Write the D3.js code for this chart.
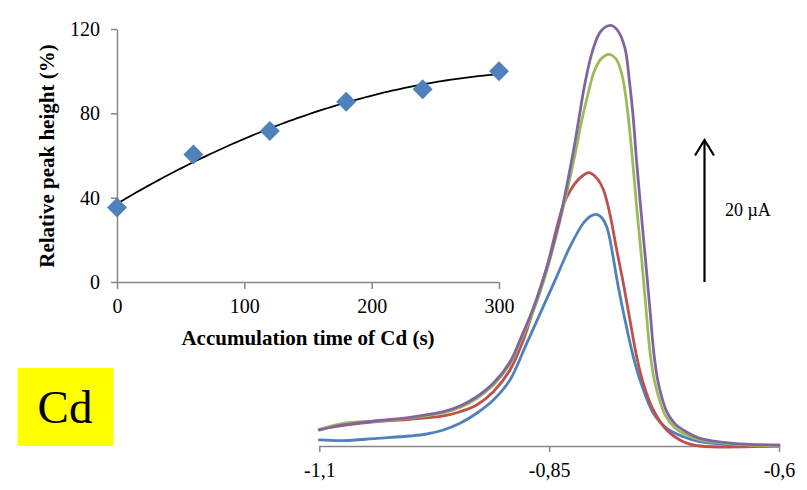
<!DOCTYPE html>
<html><head><meta charset="utf-8">
<script src="https://cdn.jsdelivr.net/npm/d3@7/dist/d3.min.js"></script>
<style>
body{margin:0;background:#fff}
svg{display:block}
text{font-family:"Liberation Serif","Times New Roman",serif;fill:#000}
</style>
</head><body>
<svg id="c" width="807" height="490"></svg>
<script>
// ---------- Inset data ----------
const insetTime = [0, 60, 120, 180, 240, 300];
const insetHeight = [35.3, 60.5, 71.6, 85.5, 91.4, 100.0];
const insetXTicks = [0, 100, 200, 300];
const insetYTicks = [0, 40, 80, 120];
const insetXTitle = "Accumulation time of Cd (s)";
const insetYTitle = "Relative peak height (%)";

// ---------- Voltammogram data: [potential (V), current (µA)] ----------
const curveBlue = [
  [-1.1000,0.85],[-1.0739,0.75],[-1.0376,1.08],[-1.0013,1.41],[-0.9832,1.69],[-0.9651,2.25],
  [-0.9470,3.20],[-0.9288,4.61],[-0.9107,6.48],[-0.8926,9.30],[-0.8744,14.46],[-0.8564,19.62],
  [-0.8418,23.85],[-0.8273,28.07],[-0.8129,31.37],[-0.8056,32.32],[-0.7983,32.63],[-0.7925,32.11],
  [-0.7874,30.89],[-0.7838,29.01],[-0.7748,22.44],[-0.7675,17.75],[-0.7585,12.58],[-0.7512,9.30],
  [-0.7367,4.61],[-0.7221,2.49],[-0.7041,1.31],[-0.6859,0.61],[-0.6500,0.14],[-0.6000,0.0]
];
const curveRed = [
  [-1.1000,2.35],[-1.0739,2.89],[-1.0376,3.42],[-1.0013,3.76],[-0.9651,4.23],[-0.9470,4.83],
  [-0.9288,5.77],[-0.9107,7.65],[-0.8926,10.70],[-0.8781,14.93],[-0.8672,19.15],[-0.8527,25.07],
  [-0.8418,30.70],[-0.8346,33.94],[-0.8273,35.92],[-0.8197,37.32],[-0.8132,38.10],[-0.8067,38.49],
  [-0.7980,37.70],[-0.7911,36.13],[-0.7844,32.96],[-0.7765,27.61],[-0.7693,22.92],[-0.7621,17.75],
  [-0.7548,12.58],[-0.7476,8.83],[-0.7367,5.07],[-0.7221,2.25],[-0.7041,0.61],[-0.6859,0.0],[-0.6000,0.0]
];
const curveGreen = [
  [-1.1000,2.32],[-1.0739,3.20],[-1.0376,3.52],[-1.0013,3.94],[-0.9651,4.65],[-0.9470,5.42],
  [-0.9288,6.69],[-0.9107,8.59],[-0.8926,11.55],[-0.8817,14.65],[-0.8672,19.01],[-0.8527,24.65],
  [-0.8382,31.69],[-0.8208,41.69],[-0.8154,45.35],[-0.8088,49.01],[-0.8012,52.68],[-0.7936,54.51],
  [-0.7846,55.17],[-0.7773,54.51],[-0.7729,53.24],[-0.7691,51.27],[-0.7642,46.62],[-0.7593,40.28],
  [-0.7545,33.24],[-0.7493,26.20],[-0.7447,19.44],[-0.7403,13.24],[-0.7349,8.87],[-0.7240,4.37],
  [-0.7131,2.54],[-0.7041,1.79],[-0.6859,0.85],[-0.6500,0.28],[-0.6000,0.0]
];
const curvePurple = [
  [-1.1000,2.25],[-1.0739,2.96],[-1.0376,3.56],[-1.0013,4.04],[-0.9651,4.83],[-0.9470,5.63],
  [-0.9288,6.94],[-0.9107,8.83],[-0.8926,11.83],[-0.8817,14.93],[-0.8672,19.44],[-0.8527,25.07],
  [-0.8382,32.11],[-0.8237,41.49],[-0.8175,46.20],[-0.8110,51.13],[-0.8020,56.01],[-0.7936,58.45],
  [-0.7831,59.23],[-0.7751,58.45],[-0.7675,56.01],[-0.7626,51.27],[-0.7588,46.62],[-0.7550,40.28],
  [-0.7501,33.10],[-0.7452,26.20],[-0.7403,19.15],[-0.7360,12.96],[-0.7313,8.87],[-0.7221,4.83],
  [-0.7131,3.10],[-0.7041,2.25],[-0.6859,1.08],[-0.6500,0.38],[-0.6000,0.14]
];
const seriesNames = ["blue", "red", "green", "purple"];
const seriesColors = ["#4F81BD", "#C0504D", "#9BBB59", "#8064A2"];
const mainXTicks = [-1.1, -0.85, -0.6];
const mainXTickLabels = ["-1,1", "-0,85", "-0,6"];
const scaleBarValue = 20; // µA
const scaleBarLabel = "20 µA";
const elementLabel = "Cd";

const svg = d3.select("#c");
const axisGrey = "#868686";

// ================= Main voltammogram =================
const xM = d3.scaleLinear().domain([-1.1, -0.6]).range([319.3, 779]);
const yM = d3.scaleLinear().domain([0, 60]).range([446, 20]);

const gAx = svg.append("g").attr("transform", "translate(0,446)")
  .call(d3.axisBottom(xM).tickValues(mainXTicks)
        .tickFormat((d,i)=>mainXTickLabels[i]).tickSize(6).tickPadding(11).tickSizeOuter(0));
gAx.select(".domain").attr("stroke", axisGrey).attr("stroke-width", 1.5);
gAx.selectAll(".tick line").attr("stroke", axisGrey).attr("stroke-width", 1.5);
gAx.selectAll(".tick text").attr("font-size", 20).attr("fill", "#000")
   .style("font-family", '"Liberation Serif","Times New Roman",serif');

const lineM = d3.line().x(d=>xM(d[0])).y(d=>yM(d[1])).curve(d3.curveCatmullRom.alpha(0.5));
[curveBlue, curveRed, curveGreen, curvePurple].forEach((c,i)=>{
  svg.append("path").datum(c).attr("d", lineM)
    .attr("fill","none").attr("stroke", seriesColors[i]).attr("stroke-width", 2.8)
    .attr("stroke-linejoin","round").attr("stroke-linecap","round");
});

// scale bar arrow (20 µA)
const barBase = 23.1;
const ax = 704.5;
const yb = yM(barBase), yt = yM(barBase + scaleBarValue);
svg.append("line").attr("x1",ax).attr("x2",ax).attr("y1",yb).attr("y2",yt+1)
  .attr("stroke","#000").attr("stroke-width",2.2);
svg.append("path").attr("d", `M${ax-9.5},${yt+15.5}L${ax},${yt}L${ax+9.5},${yt+15.5}`)
  .attr("fill","none").attr("stroke","#000").attr("stroke-width",2.2);
svg.append("text").attr("x",725).attr("y",216).attr("font-size",18).text(scaleBarLabel);

// ================= Inset =================
const xI = d3.scaleLinear().domain([0, 300]).range([117, 499]);
const yI = d3.scaleLinear().domain([0, 120]).range([282, 29]);

const gxI = svg.append("g").attr("transform","translate(0,282)")
  .call(d3.axisBottom(xI).tickValues(insetXTicks).tickSize(7).tickPadding(10).tickSizeOuter(0));
const gyI = svg.append("g").attr("transform","translate(117,0)")
  .call(d3.axisLeft(yI).tickValues(insetYTicks).tickSize(6).tickPadding(11).tickSizeOuter(0));
[gxI, gyI].forEach(g=>{
  g.select(".domain").attr("stroke", axisGrey).attr("stroke-width", 1.5);
  g.selectAll(".tick line").attr("stroke", axisGrey).attr("stroke-width", 1.5);
  g.selectAll(".tick text").attr("font-size", 20).attr("fill","#000")
   .style("font-family", '"Liberation Serif","Times New Roman",serif');
});

// least-squares quadratic trendline from the data points
function quadFit(xs, ys){
  let S=[0,0,0,0,0], T=[0,0,0];
  xs.forEach((x,i)=>{ for(let k=0;k<5;k++) S[k]+=Math.pow(x,k); for(let k=0;k<3;k++) T[k]+=ys[i]*Math.pow(x,k); });
  const A=[[S[0],S[1],S[2],T[0]],[S[1],S[2],S[3],T[1]],[S[2],S[3],S[4],T[2]]];
  for(let i=0;i<3;i++){ for(let j=i+1;j<3;j++){ const f=A[j][i]/A[i][i]; for(let k=i;k<4;k++) A[j][k]-=f*A[i][k]; } }
  const c=[0,0,0];
  for(let i=2;i>=0;i--){ let s=A[i][3]; for(let k=i+1;k<3;k++) s-=A[i][k]*c[k]; c[i]=s/A[i][i]; }
  return c;
}
const coef = quadFit(insetTime, insetHeight);
const trendX = d3.range(0, 300.01, 3);
svg.append("path").datum(trendX)
  .attr("d", d3.line().x(t=>xI(t)).y(t=>yI(coef[0]+coef[1]*t+coef[2]*t*t)))
  .attr("fill","none").attr("stroke","#000").attr("stroke-width",1.8);

svg.append("g").selectAll("path").data(insetTime).join("path")
  .attr("d", d3.symbol().type(d3.symbolSquare).size(200))
  .attr("transform",(d,i)=>`translate(${xI(d)},${yI(insetHeight[i])}) rotate(45)`)
  .attr("fill","#4F81BD");

svg.append("text").attr("x",308).attr("y",345).attr("text-anchor","middle")
  .attr("font-size",21).attr("font-weight","bold").text(insetXTitle);
svg.append("text").attr("transform","translate(54,156) rotate(-90)").attr("text-anchor","middle")
  .attr("font-size",21).attr("font-weight","bold").text(insetYTitle);

// ================= Cd label =================
svg.append("rect").attr("x",17.5).attr("y",368).attr("width",96).attr("height",78).attr("fill","#FFFF00");
svg.append("text").attr("x",65).attr("y",423).attr("text-anchor","middle")
  .attr("font-size",47).text(elementLabel);
</script>
</body></html>
